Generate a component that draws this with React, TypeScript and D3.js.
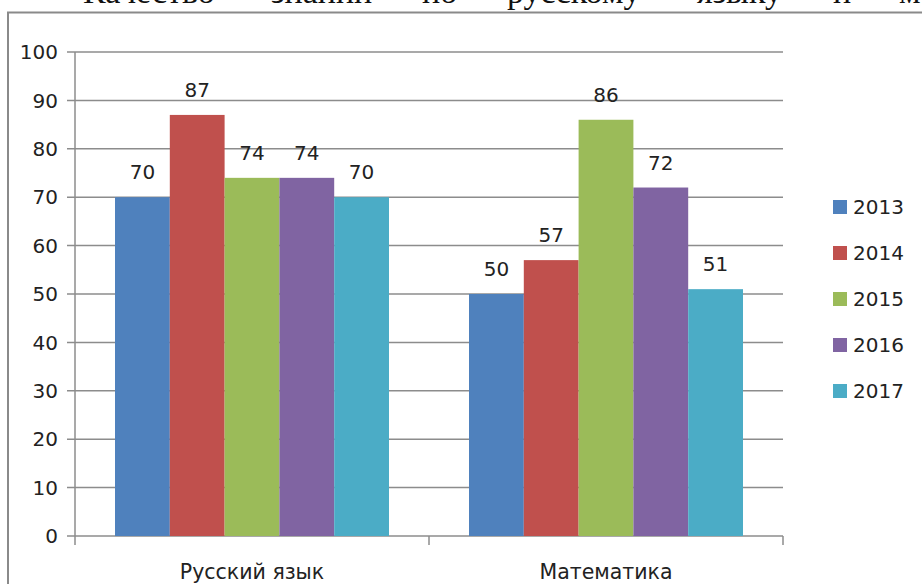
import React from "react";
import * as d3 from "d3";

const categories = ["Русский язык", "Математика"];
const years = ["2013", "2014", "2015", "2016", "2017"];
const russianValues = [70, 87, 74, 74, 70];
const mathValues = [50, 57, 86, 72, 51];
const yTicks = [0, 10, 20, 30, 40, 50, 60, 70, 80, 90, 100];
const colors = ["#4F81BD", "#C0504D", "#9BBB59", "#8064A2", "#4BACC6"];
const headerWords = ["Качество", "знаний", "по", "русскому", "языку", "и", "м"];
const headerX = [83, 271, 422, 507, 697, 833, 899];

const seriesByCategory = [russianValues, mathValues];

export default function App() {
  const W = 922, H = 584;
  const left = 75, right = 783, top = 52, bottom = 536;
  const font = "'DejaVu Sans', 'Open Sans', sans-serif";

  const x0 = d3.scaleBand<string>().domain(categories).range([left, right]).paddingInner(0.2260).paddingOuter(0.1130);
  const x1 = d3.scaleBand<string>().domain(years).range([0, x0.bandwidth()]);
  const y = d3.scaleLinear().domain([0, 100]).range([bottom, top]);

  const bandStep = (right - left) / categories.length;

  return (
    <svg width={W} height={H} style={{ position: "fixed", left: 0, top: 0, background: "#fff" }}>
      {headerWords.map((w, i) => (
        <text key={w + i} x={headerX[i]} y={3} fontFamily="'Liberation Serif', 'Times New Roman', serif" fontSize={34} fill="#111">{w}</text>
      ))}
      <rect x={8} y={12.5} width={W} height={H} fill="none" stroke="#8a8a8a" strokeWidth={2} />
      {yTicks.map((t) => (
        <g key={t}>
          <line x1={left - 8} x2={right} y1={y(t)} y2={y(t)} stroke="#8c8c8c" strokeWidth={1.5} />
          <text x={58} y={y(t)} dy="0.36em" textAnchor="end" fontFamily={font} fontSize={20} fill="#222">{t}</text>
        </g>
      ))}
      <line x1={left} x2={left} y1={top} y2={bottom + 9} stroke="#8c8c8c" strokeWidth={1.5} />
      {categories.map((c, i) => (
        <line key={c} x1={left + bandStep * (i + 1)} x2={left + bandStep * (i + 1)} y1={bottom} y2={bottom + 9} stroke="#8c8c8c" strokeWidth={1.5} />
      ))}
      {categories.map((c, ci) => (
        <g key={c}>
          {years.map((yr, si) => {
            const v = seriesByCategory[ci][si];
            const bx = (x0(c) ?? 0) + (x1(yr) ?? 0);
            return (
              <g key={yr}>
                <rect x={bx} y={y(v)} width={x1.bandwidth()} height={bottom - y(v)} fill={colors[si]} />
                <text x={bx + x1.bandwidth() / 2} y={y(v) - 18} textAnchor="middle" fontFamily={font} fontSize={20} fill="#222">{v}</text>
              </g>
            );
          })}
          <text x={left + bandStep * (ci + 0.5)} y={572} dy="0.36em" textAnchor="middle" fontFamily={font} fontSize={20.5} fill="#222">{c}</text>
        </g>
      ))}
      {years.map((yr, i) => (
        <g key={yr} transform={`translate(833, ${207 + i * 46})`}>
          <rect x={0} y={-7} width={14} height={14} fill={colors[i]} />
          <text x={20} y={0} dy="0.36em" fontFamily={font} fontSize={20} fill="#222">{yr}</text>
        </g>
      ))}
    </svg>
  );
}
